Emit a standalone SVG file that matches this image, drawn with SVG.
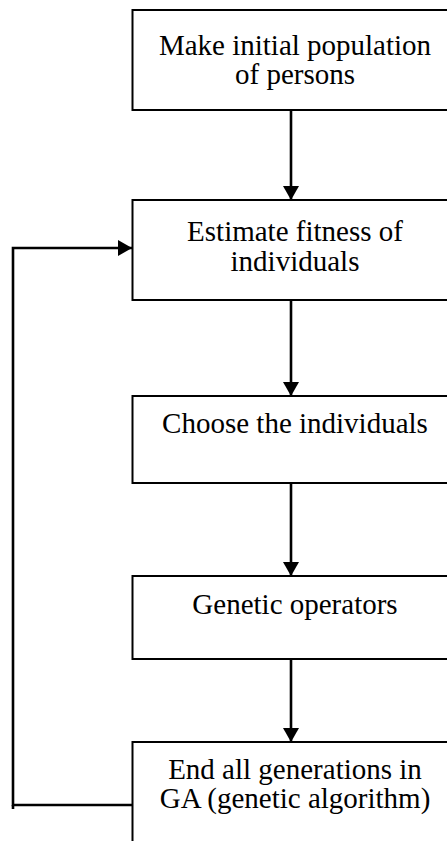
<svg xmlns="http://www.w3.org/2000/svg" width="447" height="841" viewBox="0 0 447 841">
<style>
.box{fill:#fff;stroke:#000;stroke-width:2}
.t{font-family:"Liberation Serif","Times New Roman",serif;font-size:29px;fill:#000;text-anchor:middle}
.c{fill:none;stroke:#000;stroke-width:2.6}
</style>
<defs>
<marker id="a" viewBox="0 0 14 16" refX="14" refY="8" markerWidth="14" markerHeight="16" orient="auto" markerUnits="userSpaceOnUse">
<path d="M0,0 L14,8 L0,16 Z" fill="#000"/>
</marker>
</defs>
<g id="n1"><rect class="box" x="132.5" y="10" width="330" height="100"/><text class="t" x="295" y="55">Make initial population</text><text class="t" x="295" y="84">of persons</text></g>
<g id="n2"><rect class="box" x="132.5" y="200" width="330" height="100"/><text class="t" x="295" y="241">Estimate fitness of</text><text class="t" x="295" y="271">individuals</text></g>
<g id="n3"><rect class="box" x="132.5" y="396" width="330" height="87"/><text class="t" x="295" y="433">Choose the individuals</text></g>
<g id="n4"><rect class="box" x="132.5" y="576" width="330" height="83"/><text class="t" x="295" y="614">Genetic operators</text></g>
<g id="n5"><rect class="box" x="132.5" y="742" width="330" height="120"/><text class="t" x="295" y="779">End all generations in</text><text class="t" x="295" y="808">GA (genetic algorithm)</text></g>
<g id="connectors">
<line class="c" x1="291" y1="111" x2="291" y2="200" marker-end="url(#a)"/>
<line class="c" x1="291" y1="301" x2="291" y2="396" marker-end="url(#a)"/>
<line class="c" x1="291" y1="484" x2="291" y2="576" marker-end="url(#a)"/>
<line class="c" x1="291" y1="660" x2="291" y2="742" marker-end="url(#a)"/>
<polyline class="c" points="132,805 13,805 13,248 132,248" marker-end="url(#a)"/>
<line class="c" x1="13" y1="805" x2="13" y2="809"/>
</g>
</svg>
